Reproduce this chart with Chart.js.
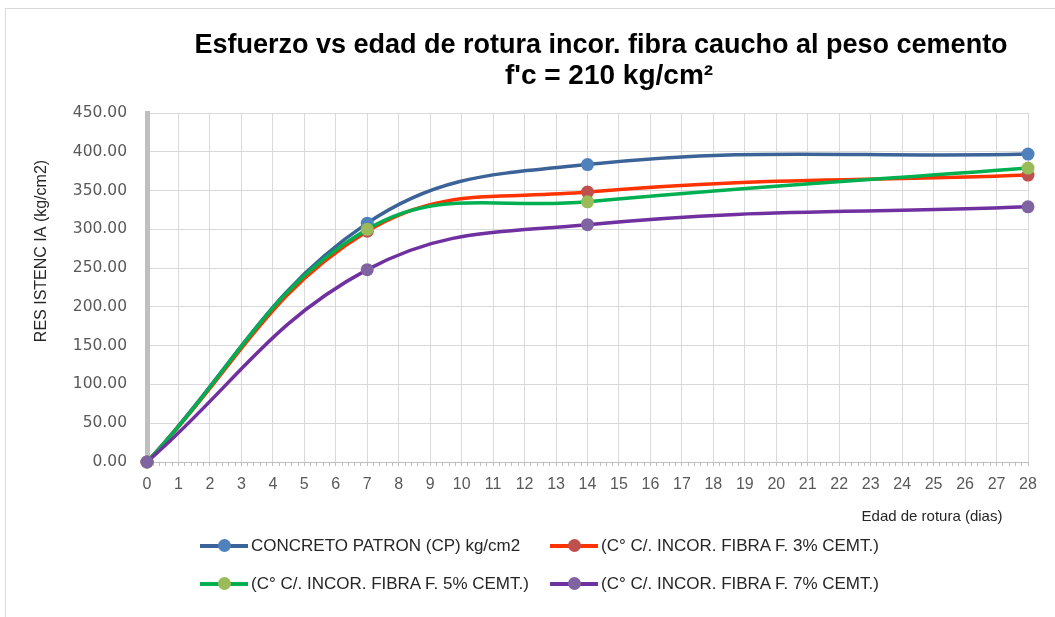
<!DOCTYPE html>
<html>
<head>
<meta charset="utf-8">
<script src="https://cdn.jsdelivr.net/npm/chart.js@4.4.0/dist/chart.umd.min.js"></script>
<style>
body { margin: 0; background: #fff; }
#wrap { position: relative; width: 1055px; height: 617px; overflow: hidden; }
#marco { position: absolute; left: 5px; top: 8px; width: 1200px; height: 800px; border-left: 1px solid #d9d9d9; border-top: 1px solid #d9d9d9; }
#grafico { position: absolute; left: 0; top: 0; }
.leyenda { position: absolute; height: 17px; display: flex; align-items: center; white-space: nowrap;
  font-family: "Liberation Sans", Arial, sans-serif; font-size: 17px; color: #262626; }
.simbolo { position: relative; width: 48px; height: 13px; margin-right: 3px; }
.simbolo .linea { position: absolute; left: 0; top: 4.5px; width: 48px; height: 4px; }
.simbolo .punto { position: absolute; left: 18px; top: 0; width: 13px; height: 13px; border-radius: 50%; }
</style>
</head>
<body>
<div id="wrap">
  <div id="marco"></div>
  <canvas id="grafico" width="1055" height="617"></canvas>
</div>
<script>
// datos
const dias = [0, 7, 14, 28];
const patron = [0, 308, 383.5, 397];
const fibra3 = [0, 297.5, 348, 370];
const fibra5 = [0, 300, 335.5, 379];
const fibra7 = [0, 248, 306, 329];

const nombres = [
  'CONCRETO PATRON (CP) kg/cm2',
  '(C° C/. INCOR. FIBRA F. 3% CEMT.)',
  '(C° C/. INCOR. FIBRA F. 5% CEMT.)',
  '(C° C/. INCOR. FIBRA F. 7% CEMT.)'
];
const colorLinea = ['#3b6398', '#ff3300', '#00b050', '#7030a0'];
const colorPunto = ['#4f81bd', '#c0504d', '#9bbb59', '#8064a2'];
const titulo = ['Esfuerzo vs edad de rotura incor. fibra caucho al peso cemento', "f'c = 210 kg/cm²"];
const tituloX = 'Edad de rotura (dias)';
const tituloY = 'RES ISTENC IA (kg/cm2)';

const series = [patron, fibra3, fibra5, fibra7];

function puntos(valores) {
  return dias.map((d, i) => ({ x: d, y: valores[i] }));
}

const esEntero = v => Math.abs(v - Math.round(v)) < 1e-6;
const fuente = '"Liberation Sans", Arial, sans-serif';

// titulos dibujados a mano (posicion como en el original)
const titulosPlugin = {
  id: 'titulos',
  afterDraw(chart) {
    const ctx = chart.ctx;
    ctx.save();
    ctx.fillStyle = '#000';
    ctx.textAlign = 'center';
    ctx.textBaseline = 'alphabetic';
    ctx.font = 'bold 27px ' + fuente;
    ctx.fillText(titulo[0], 601, 53);
    ctx.font = 'bold 28px ' + fuente;
    ctx.fillText(titulo[1], 609, 84);

    ctx.fillStyle = '#262626';
    ctx.textBaseline = 'middle';
    ctx.font = '15px ' + fuente;
    ctx.fillText(tituloX, 932, 517);

    ctx.translate(42, 251);
    ctx.rotate(-Math.PI / 2);
    ctx.font = '16px ' + fuente;
    ctx.fillText(tituloY, 0, 0);
    ctx.restore();
  }
};

new Chart(document.getElementById('grafico'), {
  type: 'line',
  data: {
    datasets: series.map((s, i) => ({
      label: nombres[i],
      data: puntos(s),
      borderColor: colorLinea[i],
      backgroundColor: colorPunto[i],
      pointBackgroundColor: colorPunto[i],
      pointBorderColor: colorPunto[i],
      pointBorderWidth: 0,
      pointRadius: 6.5,
      borderWidth: 3.5,
      tension: 0.4,
      clip: false,
      order: 4 - i
    }))
  },
  options: {
    responsive: false,
    animation: false,
    layout: { padding: { top: 113, right: 27, bottom: 88, left: 30 } },
    plugins: {
      legend: { display: false },
      tooltip: { enabled: false }
    },
    scales: {
      x: {
        type: 'linear',
        min: 0,
        max: 28,
        afterFit: s => { s.height = 67; },
        ticks: {
          stepSize: 0.2,
          autoSkip: false,
          maxRotation: 0,
          padding: 9,
          color: '#595959',
          font: { family: fuente, size: 16 },
          callback: v => esEntero(v) ? String(Math.round(v)) : ''
        },
        grid: {
          color: c => esEntero(c.tick.value) ? '#d9d9d9' : 'rgba(0,0,0,0)',
          tickColor: '#bfbfbf',
          tickLength: 4
        },
        border: { color: '#bfbfbf' }
      },
      y: {
        min: 0,
        max: 450,
        afterFit: s => { s.width = 117; },
        ticks: {
          stepSize: 50,
          padding: 20,
          color: '#595959',
          font: { family: '"DejaVu Sans", sans-serif', size: 15.5 },
          callback: v => v.toFixed(2)
        },
        grid: { color: '#d9d9d9', drawTicks: false },
        border: { color: '#bfbfbf', width: 5 }
      }
    }
  },
  plugins: [titulosPlugin]
});

// leyenda en dos columnas
const posLeyenda = [[200, 537], [550, 537], [200, 575], [550, 575]];
const wrap = document.getElementById('wrap');
nombres.forEach((n, i) => {
  const item = document.createElement('div');
  item.className = 'leyenda';
  item.style.left = posLeyenda[i][0] + 'px';
  item.style.top = posLeyenda[i][1] + 'px';
  item.innerHTML = '<div class="simbolo"><div class="linea" style="background:' + colorLinea[i] +
    '"></div><div class="punto" style="background:' + colorPunto[i] + '"></div></div><span>' + n + '</span>';
  wrap.appendChild(item);
});
</script>
</body>
</html>
